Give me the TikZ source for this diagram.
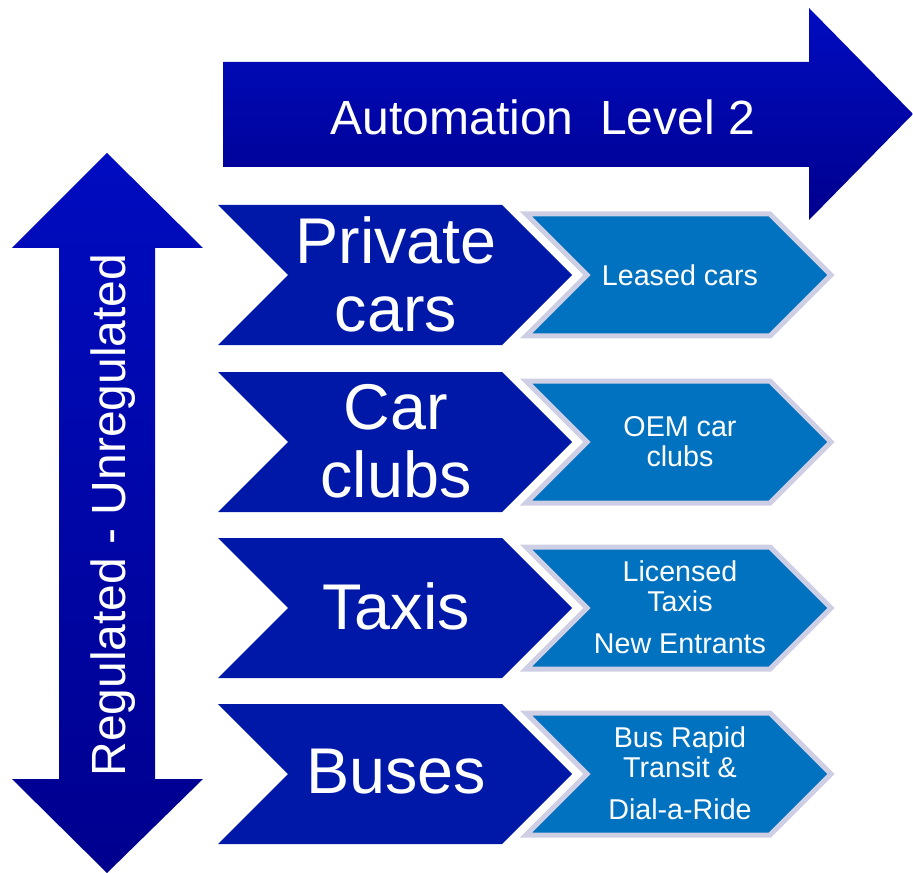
\documentclass[tikz,border=0pt]{standalone}
\usepackage{fontspec}
\setmainfont{Liberation Sans}
\usepackage{xcolor}
\usepackage{tikz}
\definecolor{arrowtop}{RGB}{0,12,192}
\definecolor{arrowbot}{RGB}{0,0,142}
\definecolor{chevdark}{RGB}{0,24,168}
\definecolor{chevlight}{RGB}{0,114,192}
\definecolor{chevrim}{RGB}{206,206,228}

\begin{document}
\begin{tikzpicture}[x=0.75pt, y=-0.75pt, line join=miter,
    mainchev/.style={fill=chevdark, draw=none},
    subchev/.style={fill=chevlight, draw=chevrim, line width=3.75pt},
    arrowtxt/.style={text=white, font=\fontsize{36}{40}\selectfont},
    bigtxt/.style={text=white, font=\fontsize{48.5}{51}\selectfont, align=center},
    subtxt/.style={text=white, font=\fontsize{21.5}{22.5}\selectfont, align=center}]
  \useasboundingbox (0, 0) rectangle (913, 873);
  %--- Automation arrow
    \shade[top color=arrowtop, bottom color=arrowbot] (223, 62) -- ++(586, 0) -- ++(0, -54) -- ++(104, 106) -- ++(-104, 106) -- ++(0, -53) -- ++(-586, 0) -- cycle;
    \node[arrowtxt] (auto) at (543, 117) {Automation\ \ Level 2};
  %--- Regulated arrow
    \shade[top color=arrowtop, bottom color=arrowbot] (107, 153) -- ++(96, 95) -- ++(-48, 0) -- ++(0, 531) -- ++(48, 0) -- ++(-96, 94) -- ++(-95, -94) -- ++(47, 0) -- ++(0, -531) -- ++(-47, 0) -- cycle;
    \node[arrowtxt, rotate=90, anchor=base] (reg) at (125, 515) {Regulated - Unregulated};
  %--- Private cars
    \draw[mainchev] (218, 205) -- ++(284, 0) -- ++(70, 70) -- ++(-70, 70) -- ++(-284, 0) -- ++(70, -70) -- cycle;
    \node[bigtxt] (pvt) at (396, 274) {Private\\cars};
    \draw[subchev] (526, 214) -- ++(244, 0) -- ++(61, 61) -- ++(-61, 61) -- ++(-244, 0) -- ++(61, -61) -- cycle;
    \node[subtxt] (leased) at (680, 275) {Leased cars};
  %--- Car clubs
    \draw[mainchev] (218, 372) -- ++(284, 0) -- ++(70, 70) -- ++(-70, 70) -- ++(-284, 0) -- ++(70, -70) -- cycle;
    \node[bigtxt] (clubs) at (396, 441) {Car\\clubs};
    \draw[subchev] (526, 381) -- ++(244, 0) -- ++(61, 61) -- ++(-61, 61) -- ++(-244, 0) -- ++(61, -61) -- cycle;
    \node[subtxt] (oem) at (680, 442) {OEM car\\clubs};
  %--- Taxis
    \draw[mainchev] (218, 538) -- ++(284, 0) -- ++(70, 70) -- ++(-70, 70) -- ++(-284, 0) -- ++(70, -70) -- cycle;
    \node[bigtxt] (taxi) at (396, 606) {Taxis};
    \draw[subchev] (526, 547) -- ++(244, 0) -- ++(61, 61) -- ++(-61, 61) -- ++(-244, 0) -- ++(61, -61) -- cycle;
    \node[subtxt] (licensed) at (680, 607) {Licensed\\Taxis\\[9pt]New Entrants};
  %--- Buses
    \draw[mainchev] (218, 704) -- ++(284, 0) -- ++(70, 70) -- ++(-70, 70) -- ++(-284, 0) -- ++(70, -70) -- cycle;
    \node[bigtxt] (bus) at (396, 772) {Buses};
    \draw[subchev] (526, 713) -- ++(244, 0) -- ++(61, 61) -- ++(-61, 61) -- ++(-244, 0) -- ++(61, -61) -- cycle;
    \node[subtxt] (brt) at (680, 773) {Bus Rapid\\Transit \&\\[9pt]Dial-a-Ride};
\end{tikzpicture}
\end{document}
